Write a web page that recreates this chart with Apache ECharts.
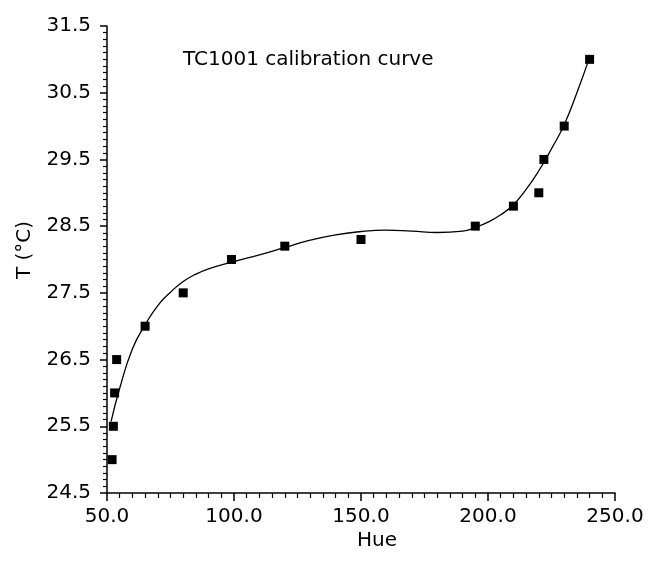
<!DOCTYPE html>
<html>
<head>
<meta charset="utf-8">
<script src="https://cdn.jsdelivr.net/npm/echarts@6/dist/echarts.min.js"></script>
<style>
html,body{margin:0;padding:0;background:#fff;}
#chart{width:660px;height:563px;}
</style>
</head>
<body>
<div id="chart"></div>
<script>
// Measured data points (Hue, T °C)
var hueValues = [52.0, 52.5, 53.0, 53.8, 65, 80, 99, 120, 150, 195, 210, 220, 222, 230, 240];
var tempValues = [25.0, 25.5, 26.0, 26.5, 27.0, 27.5, 28.0, 28.2, 28.3, 28.5, 28.8, 29.0, 29.5, 30.0, 31.0];

// Calibration curve
var curveHue = [51.6, 55, 60, 65, 70, 75, 80, 85, 90, 100, 110, 120, 130, 140, 150, 160, 170, 180, 190, 195, 200, 205, 210, 215, 220, 225, 230, 235, 240];
var curveTemp = [25.57, 26.07, 26.66, 27.02, 27.31, 27.51, 27.67, 27.78, 27.86, 27.97, 28.07, 28.18, 28.29, 28.37, 28.42, 28.44, 28.425, 28.405, 28.425, 28.48, 28.56, 28.67, 28.82, 29.05, 29.33, 29.66, 30.02, 30.5, 31.03];

var titleText = 'TC1001 calibration curve';
var xName = 'Hue';
var yName = 'T (\u00B0C)';

var FONT = 'DejaVu Sans';

var points = hueValues.map(function (h, i) { return [h, tempValues[i]]; });
var curve = curveHue.map(function (h, i) { return [h, curveTemp[i]]; });

var chart = echarts.init(document.getElementById('chart'));
chart.setOption({
  animation: false,
  backgroundColor: '#ffffff',
  grid: { left: 107, right: 45, top: 26, bottom: 70, containLabel: false },
  xAxis: {
    type: 'value', min: 50, max: 250, interval: 50,
    axisLine: { show: true, onZero: false, lineStyle: { color: '#000', width: 1.5 } },
    axisTick: { show: true, inside: false, length: 8, lineStyle: { color: '#000', width: 1.5 } },
    minorTick: { show: true, splitNumber: 10, length: 5, lineStyle: { color: '#000', width: 1.2 } },
    splitLine: { show: false },
    axisLabel: { color: '#000', fontFamily: FONT, fontSize: 20, margin: 14,
      formatter: function (v) { return v.toFixed(1); } }
  },
  yAxis: {
    type: 'value', min: 24.5, max: 31.5, interval: 1,
    axisLine: { show: true, onZero: false, lineStyle: { color: '#000', width: 1.5 } },
    axisTick: { show: true, inside: false, length: 7, lineStyle: { color: '#000', width: 1.5 } },
    minorTick: { show: true, splitNumber: 10, length: 4, lineStyle: { color: '#000', width: 1.2 } },
    splitLine: { show: false },
    axisLabel: { color: '#000', fontFamily: FONT, fontSize: 20, margin: 16,
      formatter: function (v) { return v.toFixed(1); } }
  },
  graphic: [
    { type: 'text', left: 183, top: 50, style: { text: titleText, font: '20px "' + FONT + '"', fill: '#000' } },
    { type: 'text', x: 377, y: 541, style: { text: xName, font: '20px "' + FONT + '"', fill: '#000', align: 'center', verticalAlign: 'middle' } },
    { type: 'text', x: 25, y: 250, rotation: Math.PI / 2, style: { text: yName, font: '20px "' + FONT + '"', fill: '#000', align: 'center', verticalAlign: 'middle' } }
  ],
  series: [
    {
      type: 'line', data: curve, smooth: 0.5, showSymbol: false, silent: true,
      lineStyle: { color: '#000', width: 1.3 }, z: 2
    },
    {
      type: 'scatter', data: points, symbol: 'rect', symbolSize: 9,
      itemStyle: { color: '#000', opacity: 1 }, z: 3
    }
  ]
});
</script>
</body>
</html>
